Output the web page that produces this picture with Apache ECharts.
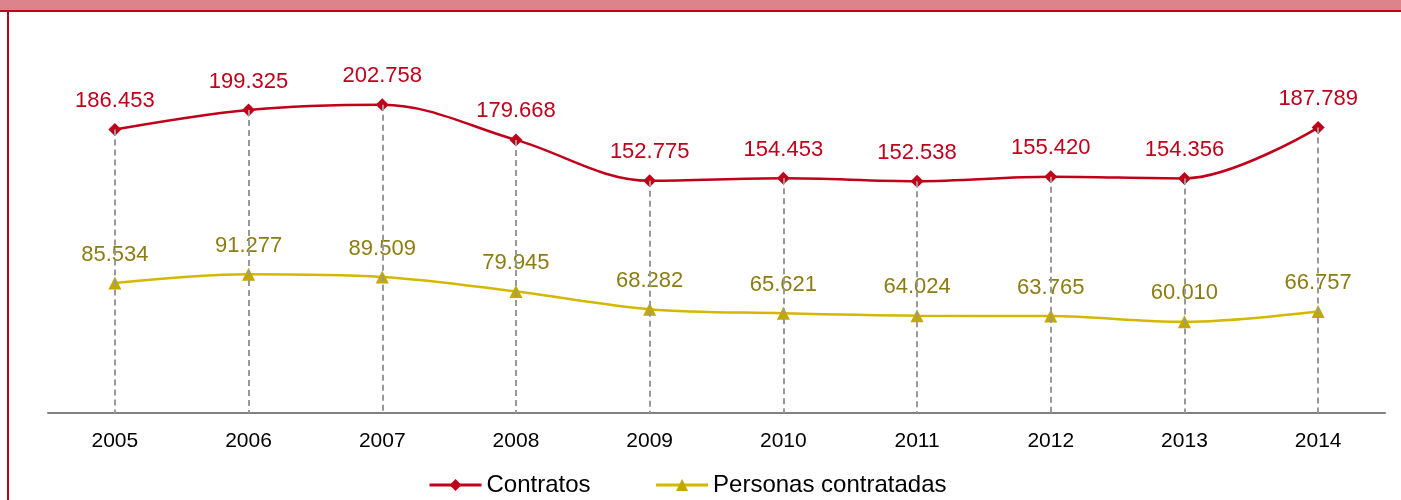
<!DOCTYPE html>
<html>
<head>
<meta charset="utf-8">
<script src="https://cdn.jsdelivr.net/npm/echarts@6/dist/echarts.min.js"></script>
<style>
  html, body { margin: 0; padding: 0; background: #fff; }
  #chart { width: 1401px; height: 500px; }
</style>
</head>
<body>
<div id="chart"></div>
<script>
// datos
const years = ['2005', '2006', '2007', '2008', '2009', '2010', '2011', '2012', '2013', '2014']
const contratos = [186.453, 199.325, 202.758, 179.668, 152.775, 154.453, 152.538, 155.420, 154.356, 187.789]
const personas = [85.534, 91.277, 89.509, 79.945, 68.282, 65.621, 64.024, 63.765, 60.010, 66.757]

const fontFam = '"Liberation Sans", Arial, sans-serif'

function fmt(v) {
    return v.toFixed(3)
}

// lineas de caida desde cada punto de Contratos hasta el eje
let dropLines = []
for (let i = 0; i < years.length; i++) {
    dropLines.push([
        { coord: [i, contratos[i]] },
        { coord: [i, 0] }
    ])
}

let chartDom = document.getElementById('chart')
let myChart = echarts.init(chartDom)
let option

option = {
    animation: false,
    textStyle: { fontFamily: fontFam },
    graphic: [
        { type: 'rect', shape: { x: 0, y: 0, width: 1401, height: 10 }, style: { fill: '#dc838b' }, silent: true },
        { type: 'rect', shape: { x: 0, y: 10, width: 1401, height: 2 }, style: { fill: '#c0001a' }, silent: true },
        { type: 'rect', shape: { x: 7, y: 12, width: 2, height: 488 }, style: { fill: '#c0001a' }, silent: true }
    ],
    grid: {
        left: 48,
        right: 16,
        top: 33,
        bottom: 87
    },
    legend: {
        left: 423,
        top: 468,
        itemWidth: 52,
        itemHeight: 15,
        itemGap: 64,
        lineStyle: { width: 3 },
        textStyle: { fontSize: 24, color: '#000', fontFamily: fontFam },
        data: ['Contratos', 'Personas contratadas']
    },
    xAxis: {
        type: 'category',
        data: years,
        boundaryGap: true,
        axisLine: { lineStyle: { color: '#808080', width: 2 } },
        axisTick: { show: false },
        axisLabel: { fontSize: 21, color: '#000', margin: 18, fontFamily: fontFam },
        splitLine: { show: false }
    },
    yAxis: {
        type: 'value',
        min: 0,
        max: 250,
        show: false,
        splitLine: { show: false }
    },
    series: [
        {
            name: 'Contratos',
            type: 'line',
            data: contratos,
            smooth: 0.35,
            symbol: 'diamond',
            symbolSize: 13,
            z: 3,
            lineStyle: { color: '#c0001a', width: 2.5 },
            itemStyle: { color: '#c0001a' },
            label: {
                show: true,
                position: 'top',
                distance: 11,
                fontSize: 22,
                color: '#c0001a',
                fontFamily: fontFam,
                formatter: p => fmt(p.value)
            },
            markLine: {
                silent: true,
                symbol: ['none', 'none'],
                label: { show: false },
                lineStyle: { color: '#999999', type: [6, 4], width: 2 },
                z: 5,
                data: dropLines
            }
        },
        {
            name: 'Personas contratadas',
            type: 'line',
            data: personas,
            smooth: 0.35,
            symbol: 'triangle',
            symbolSize: 13,
            z: 3,
            lineStyle: { color: '#d4b800', width: 2.5 },
            itemStyle: { color: '#c2a800' },
            label: {
                show: true,
                position: 'top',
                distance: 11,
                fontSize: 22,
                color: '#8c7d12',
                fontFamily: fontFam,
                formatter: p => fmt(p.value)
            }
        }
    ]
}

option && myChart.setOption(option)
</script>
</body>
</html>
